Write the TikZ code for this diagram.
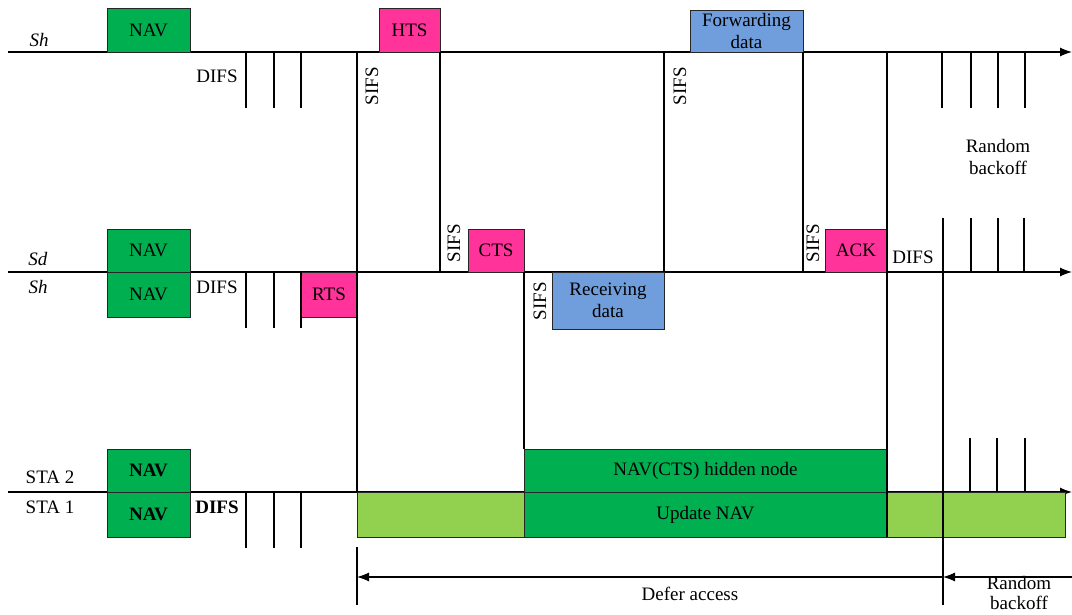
\documentclass[tikz,border=0pt]{standalone}
\usepackage{fontspec}
\setmainfont{Liberation Serif}
\usetikzlibrary{positioning,arrows.meta}
\definecolor{navgreen}{RGB}{0,176,80}
\definecolor{ctrlpink}{RGB}{255,51,153}
\definecolor{datablue}{RGB}{112,158,220}
\definecolor{idlegreen}{RGB}{146,208,80}

\begin{document}
\begin{tikzpicture}[x=1pt, y=-1pt, font=\fontsize{19}{22.5}\selectfont,
                    framebox/.style={draw=black!85, line width=0.9pt, inner sep=0pt, outer sep=0pt, align=center},
                    navbox/.style={framebox, fill=navgreen, minimum width=83pt},
                    ctrlbox/.style={framebox, fill=ctrlpink},
                    databox/.style={framebox, fill=datablue},
                    idlebox/.style={framebox, fill=idlegreen, minimum height=45pt},
                    timeline/.style={line width=1.1pt, -{Latex[length=12pt,width=9pt]}},
                    slot/.style={line width=1.1pt},
                    sifs/.style={rotate=90, inner sep=0pt},]
    \useasboundingbox (0,0) rectangle (1072,615);
    % time axes
    \coordinate (shIn)  at (8,52);   \coordinate (shOut)  at (1072,52);
    \coordinate (sdIn)  at (8,272);  \coordinate (sdOut)  at (1072,272);
    \coordinate (staIn) at (8,492);  \coordinate (staOut) at (1072,492);
    \draw[timeline] (shIn) -- (shOut);
    \draw[timeline] (sdIn) -- (sdOut);
    \draw[timeline] (staIn) -- (staOut);
    % frames on Sh (top)
    \node[navbox, minimum height=44pt]                       (navTop) at (148.5,30)  {NAV};
    \node[ctrlbox, minimum width=61pt, minimum height=44pt]  (hts)    at (409.5,30)  {HTS};
    \node[databox, minimum width=113pt, minimum height=42pt] (fwd)    at (746.5,31)  {Forwarding\\data};
    % frames on Sd / Sh
    \node[navbox, minimum height=43pt]                       (navSd)  at (148.5,250.5) {NAV};
    \node[navbox, minimum height=45pt, below=0pt of navSd]   (navSh)                   {NAV};
    \node[ctrlbox, minimum width=56pt, minimum height=45pt]  (rts)    at (329,294.5)   {RTS};
    \node[ctrlbox, minimum width=56pt, minimum height=43pt]  (cts)    at (496,250.5)   {CTS};
    \node[databox, minimum width=112pt, minimum height=57pt] (rcv)    at (608,300.5)   {Receiving\\data};
    \node[ctrlbox, minimum width=62pt, minimum height=43pt]  (ack)    at (856,250.5)   {ACK};
    % frames on STA 2 / STA 1
    \node[navbox, minimum height=43pt]                       (navSta2) at (148.5,470.5) {\textbf{NAV}};
    \node[navbox, minimum height=45pt, below=0pt of navSta2] (navSta1)                  {\textbf{NAV}};
    \node[framebox, fill=navgreen, minimum width=363pt, minimum height=43pt] (hidden) at (705.5,470.5) {NAV(CTS) hidden node};
    \node[framebox, fill=navgreen, minimum width=363pt, minimum height=45pt, below=0pt of hidden] (upd) {Update NAV};
    \node[idlebox, minimum width=167pt, left=0pt of upd]     (idleA) {};
    \node[idlebox, minimum width=178pt, right=0pt of upd]    (idleB) {};
    % labels
    \node (shTop)   at (39,40)   {\textit{Sh}};
    \node (sd)      at (38,259)  {\textit{Sd}};
    \node (shMid)   at (38,287)  {\textit{Sh}};
    \node (sta2)    at (50,477)  {STA 2};
    \node (sta1)    at (50,507)  {STA 1};
    \node (difsTop) at (217,76)  {DIFS};
    \node (difsMid) at (217,287) {DIFS};
    \node (difsAck) at (913,257) {DIFS};
    \node (difsSta) at (217,507) {\textbf{DIFS}};
    \node[sifs] (sifsHts) at (372,86)  {SIFS};
    \node[sifs] (sifsFwd) at (680,86)  {SIFS};
    \node[sifs] (sifsCts) at (454,243) {SIFS};
    \node[sifs] (sifsRcv) at (540,301) {SIFS};
    \node[sifs] (sifsAck) at (813,243) {SIFS};
    \node[align=center] (rbTop) at (998,157)  {Random\\backoff};
    \node (defer)               at (690,594)  {Defer access};
    \node[align=center, font=\fontsize{19}{20.5}\selectfont] (rbBot) at (1019,593) {Random\\backoff};
    % boundaries
    \draw[slot] (navTop.south -| rts.east) -- (idleA.north west);
    \draw[slot] (hts.south east) -- (hts.south east |- cts.south);
    \draw[slot] (rcv.north east |- fwd.south) -- (rcv.north east);
    \draw[slot] (fwd.south east) -- (fwd.south east |- ack.south);
    \draw[slot] (ack.north east |- navTop.south) -- (upd.south east);
    \draw[slot] (cts.south east) -- (hidden.north west);
    % slot ticks
    \draw[slot] (246,52) -- (246,108) (274,52) -- (274,108) (301,52) -- (301,108);
    \draw[slot] (942,52) -- (942,108) (971,52) -- (971,108) (998,52) -- (998,108) (1025,52) -- (1025,108);
    \draw[slot] (246,272) -- (246,328) (274,272) -- (274,328) (301,272) -- (301,328);
    \draw[slot] (971,218) -- (971,272) (998,218) -- (998,272) (1024,218) -- (1024,272);
    \draw[slot] (246,492) -- (246,548) (274,492) -- (274,548) (301,492) -- (301,548);
    \draw[slot] (970,438) -- (970,492) (997,438) -- (997,492) (1025,438) -- (1025,492);
    % defer access / random backoff
    \coordinate (deferTop) at (357,547); \coordinate (deferL) at (357,577); \coordinate (deferBot) at (357,605);
    \coordinate (rbTopMark) at (943,218); \coordinate (rbMid) at (943,577); \coordinate (rbBotMark) at (943,605);
    \coordinate (rbR) at (1072,577);
    \draw[slot] (deferTop) -- (deferBot);
    \draw[slot] (rbTopMark) -- (rbBotMark);
    \draw[slot, -{Latex[length=12pt,width=9pt]}] (rbMid) -- (deferL);
    \draw[slot, -{Latex[length=12pt,width=9pt]}] (rbR) -- (rbMid);
\end{tikzpicture}
\end{document}
